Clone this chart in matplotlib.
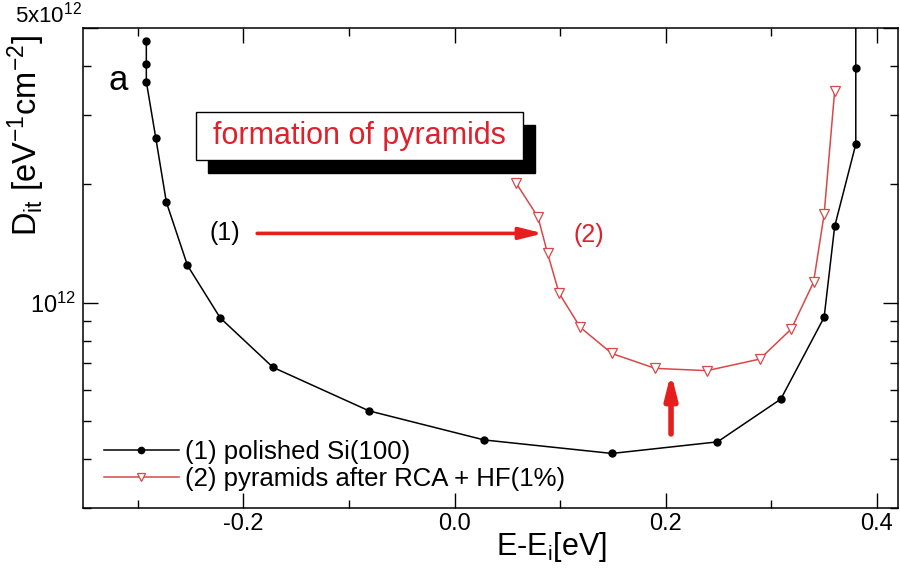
import matplotlib
matplotlib.use("Agg")
import matplotlib.pyplot as plt
from matplotlib.patches import Rectangle
from matplotlib.ticker import FixedLocator, FixedFormatter, NullFormatter

plt.rcParams["font.family"] = ["Liberation Sans", "DejaVu Sans"]
plt.rcParams["mathtext.default"] = "regular"

# (1) polished Si(100)
e1 = [-0.292, -0.292, -0.292, -0.283, -0.273, -0.253, -0.222, -0.172,
      -0.081, 0.028, 0.149, 0.249, 0.309, 0.350, 0.360, 0.380, 0.380, 0.380]
d1 = [4.64e12, 4.06e12, 3.65e12, 2.62e12, 1.80e12, 1.243e12, 9.14e11, 6.84e11,
      5.30e11, 4.47e11, 4.13e11, 4.42e11, 5.68e11, 9.17e11, 1.563e12, 2.53e12,
      3.96e12, 6.0e12]
# (2) pyramids after RCA + HF(1%)
e2 = [0.058, 0.079, 0.088, 0.099, 0.119, 0.149, 0.190, 0.239, 0.289,
      0.319, 0.340, 0.350, 0.360]
d2 = [2.02e12, 1.65e12, 1.336e12, 1.056e12, 8.65e11, 7.42e11, 6.80e11, 6.71e11,
      7.18e11, 8.57e11, 1.127e12, 1.677e12, 3.46e12]

label1 = "(1) polished Si(100)"
label2 = "(2) pyramids after RCA + HF(1%)"
RED = "#d84848"

fig = plt.figure(figsize=(9, 5.7), dpi=100)
ax = fig.add_axes([0.0922, 0.1088, 0.9056, 0.8421])

ax.plot(e1, d1, "-o", color="black", lw=1.1, ms=5, label=label1)
ax.plot(e2, d2, "-v", color=RED, lw=1.1, ms=7, mfc="white", mec=RED, mew=0.9,
        label=label2)

ax.set_yscale("log")
ax.set_xlim(-0.352, 0.42)
ax.set_ylim(3e11, 5e12)

ax.xaxis.set_major_locator(FixedLocator([-0.2, 0.0, 0.2, 0.4]))
ax.xaxis.set_major_formatter(FixedFormatter(["-0.2", "0.0", "0.2", "0.4"]))
ax.xaxis.set_minor_locator(FixedLocator([-0.3, -0.1, 0.1, 0.3]))
ax.yaxis.set_major_locator(FixedLocator([1e12, 5e12]))
ax.yaxis.set_major_formatter(FixedFormatter([r"10$^{12}$", ""]))
ax.yaxis.set_minor_locator(FixedLocator([3e11, 4e11, 5e11, 6e11, 7e11, 8e11, 9e11,
                                         2e12, 3e12, 4e12]))
ax.yaxis.set_minor_formatter(NullFormatter())
ax.tick_params(which="both", direction="in", top=True, right=True, labelsize=17)
ax.tick_params(which="major", length=11, width=1)
ax.tick_params(which="minor", length=6, width=1)
ax.tick_params(axis="y", pad=5)
for s in ax.spines.values():
    s.set_linewidth(1.1)

# top y label sits at the axes corner
ax.text(-0.001, 1.0, r"5x10$^{12}$", transform=ax.transAxes, fontsize=16,
        ha="right", va="bottom")

ax.text(0.575, -0.081, r"E-E$_i$[eV]", transform=ax.transAxes, fontsize=22,
        ha="center", va="center")
ax.text(-0.069, 0.775, r"D$_{it}$ [eV$^{-1}$cm$^{-2}$]", transform=ax.transAxes,
        fontsize=23.5, rotation=90, ha="center", va="center")

ax.text(0.043, 0.89, "a", transform=ax.transAxes, fontsize=25, ha="center", va="center")

# "formation of pyramids" box with shadow
ax.add_patch(Rectangle((0.1534, 0.698), 0.401, 0.1, transform=ax.transAxes,
                       fc="black", ec="black", zorder=5))
ax.add_patch(Rectangle((0.1387, 0.725), 0.401, 0.1, transform=ax.transAxes,
                       fc="white", ec="black", lw=1, zorder=6))
ax.text(0.339, 0.775, "formation of pyramids", transform=ax.transAxes, fontsize=22,
        color="#e0202a", ha="center", va="center", zorder=7)

# arrows
ax.annotate("", xy=(0.084, 1.5e12), xytext=(-0.187, 1.5e12),
            arrowprops=dict(arrowstyle="-|>,head_length=1.4,head_width=0.35",
                            color="#e61e1e", lw=2.6, shrinkA=0, shrinkB=0))
ax.annotate("", xy=(0.205, 6.63e11), xytext=(0.205, 4.63e11),
            arrowprops=dict(arrowstyle="-|>,head_length=1.4,head_width=0.35",
                            color="#e61e1e", lw=4, shrinkA=0, shrinkB=0))
ax.text(-0.218, 1.5e12, "(1)", fontsize=18, ha="center", va="center")
ax.text(0.127, 1.49e12, "(2)", fontsize=18, ha="center", va="center", color="#e0202a")

ax.legend(loc="lower left", bbox_to_anchor=(0.026, 0.035), frameon=False,
          fontsize=18.5, handlelength=2.9, handletextpad=0.25, labelspacing=0.12,
          borderpad=0, borderaxespad=0, markerscale=0.9)

fig.savefig("out.png", dpi=100)
